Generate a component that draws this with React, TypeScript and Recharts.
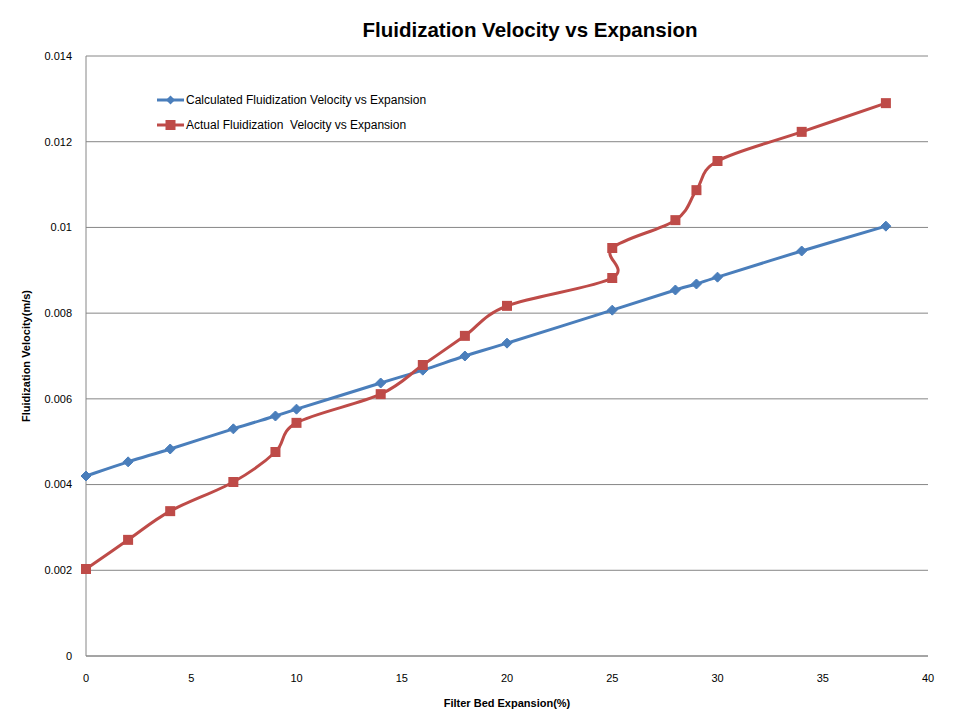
import React from "react"
import { LineChart, Line, XAxis, YAxis, CartesianGrid, Label } from "recharts"

const calcExpansion = [0, 2, 4, 7, 9, 10, 14, 16, 18, 20, 25, 28, 29, 30, 34, 38]
const calcVelocity = [
  0.0042, 0.00453, 0.00483, 0.0053, 0.0056, 0.00576, 0.00637, 0.00667, 0.007, 0.0073, 0.00807, 0.00854,
  0.00868, 0.00884, 0.00945, 0.01003,
]
const actualExpansion = [0, 2, 4, 7, 9, 10, 14, 16, 18, 20, 25, 25, 28, 29, 30, 34, 38]
const actualVelocity = [
  0.00203, 0.00271, 0.00338, 0.00406, 0.00476, 0.00544, 0.00611, 0.00679, 0.00747, 0.00817, 0.00882,
  0.00952, 0.01017, 0.01087, 0.01155, 0.01223, 0.0129,
]
const xTicks = [0, 5, 10, 15, 20, 25, 30, 35, 40]
const yTicks = [0, 0.002, 0.004, 0.006, 0.008, 0.01, 0.012, 0.014]

const calcData = calcExpansion.map((x, i) => ({ x, y: calcVelocity[i] }))
const actualData = actualExpansion.map((x, i) => ({ x, y: actualVelocity[i] }))

const BLUE = "#4A7EBB"
const RED = "#BE4B48"
const FONT = "'Liberation Sans', Arial, sans-serif"

if (typeof document !== "undefined") document.body.style.margin = "0"

// excel-ish smoothing (catmull-rom as bezier), works with repeated x values
function excelCurve(context: any) {
  let pts: number[][] = []
  return {
    areaStart() {},
    areaEnd() {},
    lineStart() {
      pts = []
    },
    point(x: number, y: number) {
      pts.push([+x, +y])
    },
    lineEnd() {
      if (!pts.length) return
      context.moveTo(pts[0][0], pts[0][1])
      for (let i = 0; i < pts.length - 1; i++) {
        const p0 = pts[i - 1] || pts[i]
        const p1 = pts[i]
        const p2 = pts[i + 1]
        const p3 = pts[i + 2] || pts[i + 1]
        context.bezierCurveTo(
          p1[0] + (p2[0] - p0[0]) / 6,
          p1[1] + (p2[1] - p0[1]) / 6,
          p2[0] - (p3[0] - p1[0]) / 6,
          p2[1] - (p3[1] - p1[1]) / 6,
          p2[0],
          p2[1]
        )
      }
    },
  }
}

const diamond = (props: any) => {
  const { cx, cy, index } = props
  const r = 5
  return (
    <path
      key={`d-${index}`}
      d={`M${cx},${cy - r}L${cx + r},${cy}L${cx},${cy + r}L${cx - r},${cy}Z`}
      fill={BLUE}
      stroke={BLUE}
      strokeWidth={1}
    />
  )
}

const square = (props: any) => {
  const { cx, cy, index } = props
  return <rect key={`s-${index}`} x={cx - 5} y={cy - 5} width={10} height={10} fill={RED} />
}

const legendItems = [
  { name: "Calculated Fluidization Velocity vs Expansion", color: BLUE, shape: "diamond" },
  { name: "Actual Fluidization  Velocity vs Expansion", color: RED, shape: "square" },
]

export default function App() {
  return (
    <div style={{ position: "relative", width: 960, height: 720, background: "#fff" }}>
      <div
        style={{
          position: "absolute",
          top: 18,
          left: 0,
          width: 1060,
          textAlign: "center",
          fontFamily: FONT,
          fontWeight: "bold",
          fontSize: 20.5,
        }}
      >
        Fluidization Velocity vs Expansion
      </div>
      <div
        style={{ position: "absolute", left: 157, top: 87, fontFamily: FONT, fontSize: 12, color: "#000", zIndex: 2 }}
      >
        {legendItems.map((item) => (
          <div key={item.name} style={{ display: "flex", alignItems: "center", height: 25 }}>
            <svg width={28} height={12}>
              <line x1={0} y1={6} x2={27} y2={6} stroke={item.color} strokeWidth={3} />
              {item.shape === "diamond" ? (
                <path d="M13.5,1.5L18,6L13.5,10.5L9,6Z" fill={item.color} />
              ) : (
                <rect x={8.5} y={1} width={10} height={10} fill={item.color} />
              )}
            </svg>
            <span style={{ marginLeft: 1, whiteSpace: "pre" }}>{item.name}</span>
          </div>
        ))}
      </div>
      <LineChart width={960} height={720} margin={{ top: 56, right: 32, bottom: 34, left: 0 }}>
        <CartesianGrid vertical={false} stroke="#868686" strokeWidth={1} />
        <XAxis
          type="number"
          dataKey="x"
          domain={[0, 40]}
          ticks={xTicks}
          height={30}
          tickSize={0}
          tickMargin={18}
          axisLine={{ stroke: "#868686" }}
          tick={{ fontSize: 11, fill: "#000", fontFamily: FONT }}
          allowDuplicatedCategory={false}
        >
          <Label
            content={() => (
              <text x={507} y={707} textAnchor="middle" fontFamily={FONT} fontSize={11} fontWeight="bold" fill="#000">
                Filter Bed Expansion(%)
              </text>
            )}
          />
        </XAxis>
        <YAxis
          type="number"
          dataKey="y"
          domain={[0, 0.014]}
          ticks={yTicks}
          width={86}
          tickSize={0}
          tickMargin={14}
          axisLine={{ stroke: "#868686" }}
          tick={{ fontSize: 11, fill: "#000", fontFamily: FONT }}
        >
          <Label
            content={() => (
              <text
                x={30}
                y={356}
                textAnchor="middle"
                transform="rotate(-90 30 356)"
                fontFamily={FONT}
                fontSize={11}
                fontWeight="bold"
                fill="#000"
              >
                Fluidization Velocity(m/s)
              </text>
            )}
          />
        </YAxis>
        <Line
          data={calcData}
          dataKey="y"
          name="Calculated Fluidization Velocity vs Expansion"
          type={excelCurve as any}
          stroke={BLUE}
          strokeWidth={3}
          dot={diamond}
          activeDot={false}
          isAnimationActive={false}
        />
        <Line
          data={actualData}
          dataKey="y"
          name="Actual Fluidization  Velocity vs Expansion"
          type={excelCurve as any}
          stroke={RED}
          strokeWidth={3}
          dot={square}
          activeDot={false}
          isAnimationActive={false}
        />
      </LineChart>
    </div>
  )
}
